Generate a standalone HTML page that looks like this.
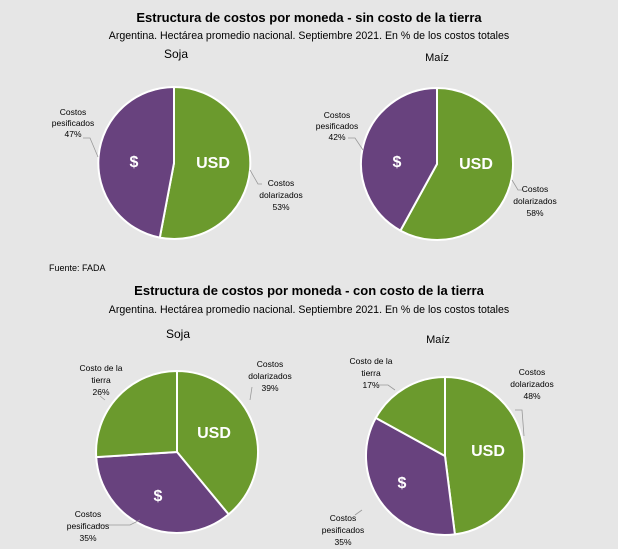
<!DOCTYPE html>
<html><head><meta charset="utf-8"><style>
body{margin:0;background:#e6e6e6;}
svg{display:block;font-family:"Liberation Sans",sans-serif;}
</style></head><body>
<svg width="618" height="549" viewBox="0 0 618 549">
<rect width="618" height="549" fill="#e6e6e6"/>
<g text-anchor="middle" fill="#000">
<text x="309" y="22" font-size="13" font-weight="bold">Estructura de costos por moneda - sin costo de la tierra</text>
<text x="309" y="39" font-size="10.6">Argentina. Hectárea promedio nacional. Septiembre 2021. En % de los costos totales</text>
<text x="176" y="58" font-size="12">Soja</text>
<text x="437" y="61" font-size="11">Maíz</text>
<text x="309" y="295" font-size="13" font-weight="bold">Estructura de costos por moneda - con costo de la tierra</text>
<text x="309" y="313" font-size="10.6">Argentina. Hectárea promedio nacional. Septiembre 2021. En % de los costos totales</text>
<text x="178" y="338" font-size="12">Soja</text>
<text x="438" y="343" font-size="11">Maíz</text>
</g>
<text x="49" y="271" font-size="9">Fuente: FADA</text>
<g stroke="#fff" stroke-width="2">
<path d="M174,163 L174,87 A76,76 0 1 1 159.8,237.6 Z" fill="#6b9a2d"/>
<path d="M174,163 L159.8,237.6 A76,76 0 0 1 174,87 Z" fill="#68427e"/>
<path d="M437,164 L437,88 A76,76 0 1 1 400.4,230.6 Z" fill="#6b9a2d"/>
<path d="M437,164 L400.4,230.6 A76,76 0 0 1 437,88 Z" fill="#68427e"/>
<path d="M177,452 L177,371 A81,81 0 0 1 228.6,514.4 Z" fill="#6b9a2d"/>
<path d="M177,452 L228.6,514.4 A81,81 0 0 1 96.2,457.1 Z" fill="#68427e"/>
<path d="M177,452 L96.2,457.1 A81,81 0 0 1 177,371 Z" fill="#6b9a2d"/>
<path d="M445,456 L445,377 A79,79 0 0 1 454.9,534.4 Z" fill="#6b9a2d"/>
<path d="M445,456 L454.9,534.4 A79,79 0 0 1 375.8,417.9 Z" fill="#68427e"/>
<path d="M445,456 L375.8,417.9 A79,79 0 0 1 445,377 Z" fill="#6b9a2d"/>
</g>
<g fill="#fff" font-weight="bold" font-size="16" text-anchor="middle">
<text x="134" y="167">$</text><text x="213" y="168">USD</text>
<text x="397" y="167">$</text><text x="476" y="169">USD</text>
<text x="158" y="501">$</text><text x="214" y="438">USD</text>
<text x="402" y="488">$</text><text x="488" y="456">USD</text>
</g>
<g fill="none" stroke="#999" stroke-width="0.8">
<path d="M83,138 L90,138 L98,157"/><path d="M250,170 L258,184 L262,184"/>
<path d="M348,138 L355,138 L363,150"/><path d="M512,180 L518,190 L522,190"/>
<path d="M252,387 L250,400"/><path d="M100,396 L105,400"/>
<path d="M95,525 L130,525 L140,520"/>
<path d="M515,410 L522,410 L524,436"/><path d="M378,385 L388,385 L395,390"/>
<path d="M355,515 L362,510"/>
</g>
<g font-size="8.5" text-anchor="middle" fill="#000">
<text x="73" y="115">Costos</text><text x="73" y="126">pesificados</text><text x="73" y="137">47%</text>
<text x="281" y="186">Costos</text><text x="281" y="198">dolarizados</text><text x="281" y="210">53%</text>
<text x="337" y="118">Costos</text><text x="337" y="129">pesificados</text><text x="337" y="140">42%</text>
<text x="535" y="192">Costos</text><text x="535" y="204">dolarizados</text><text x="535" y="216">58%</text>
<text x="270" y="367">Costos</text><text x="270" y="379">dolarizados</text><text x="270" y="391">39%</text>
<text x="101" y="371">Costo de la</text><text x="101" y="383">tierra</text><text x="101" y="395">26%</text>
<text x="88" y="517">Costos</text><text x="88" y="529">pesificados</text><text x="88" y="541">35%</text>
<text x="532" y="375">Costos</text><text x="532" y="387">dolarizados</text><text x="532" y="399">48%</text>
<text x="371" y="364">Costo de la</text><text x="371" y="376">tierra</text><text x="371" y="388">17%</text>
<text x="343" y="521">Costos</text><text x="343" y="533">pesificados</text><text x="343" y="545">35%</text>
</g>
</svg>
</body></html>
